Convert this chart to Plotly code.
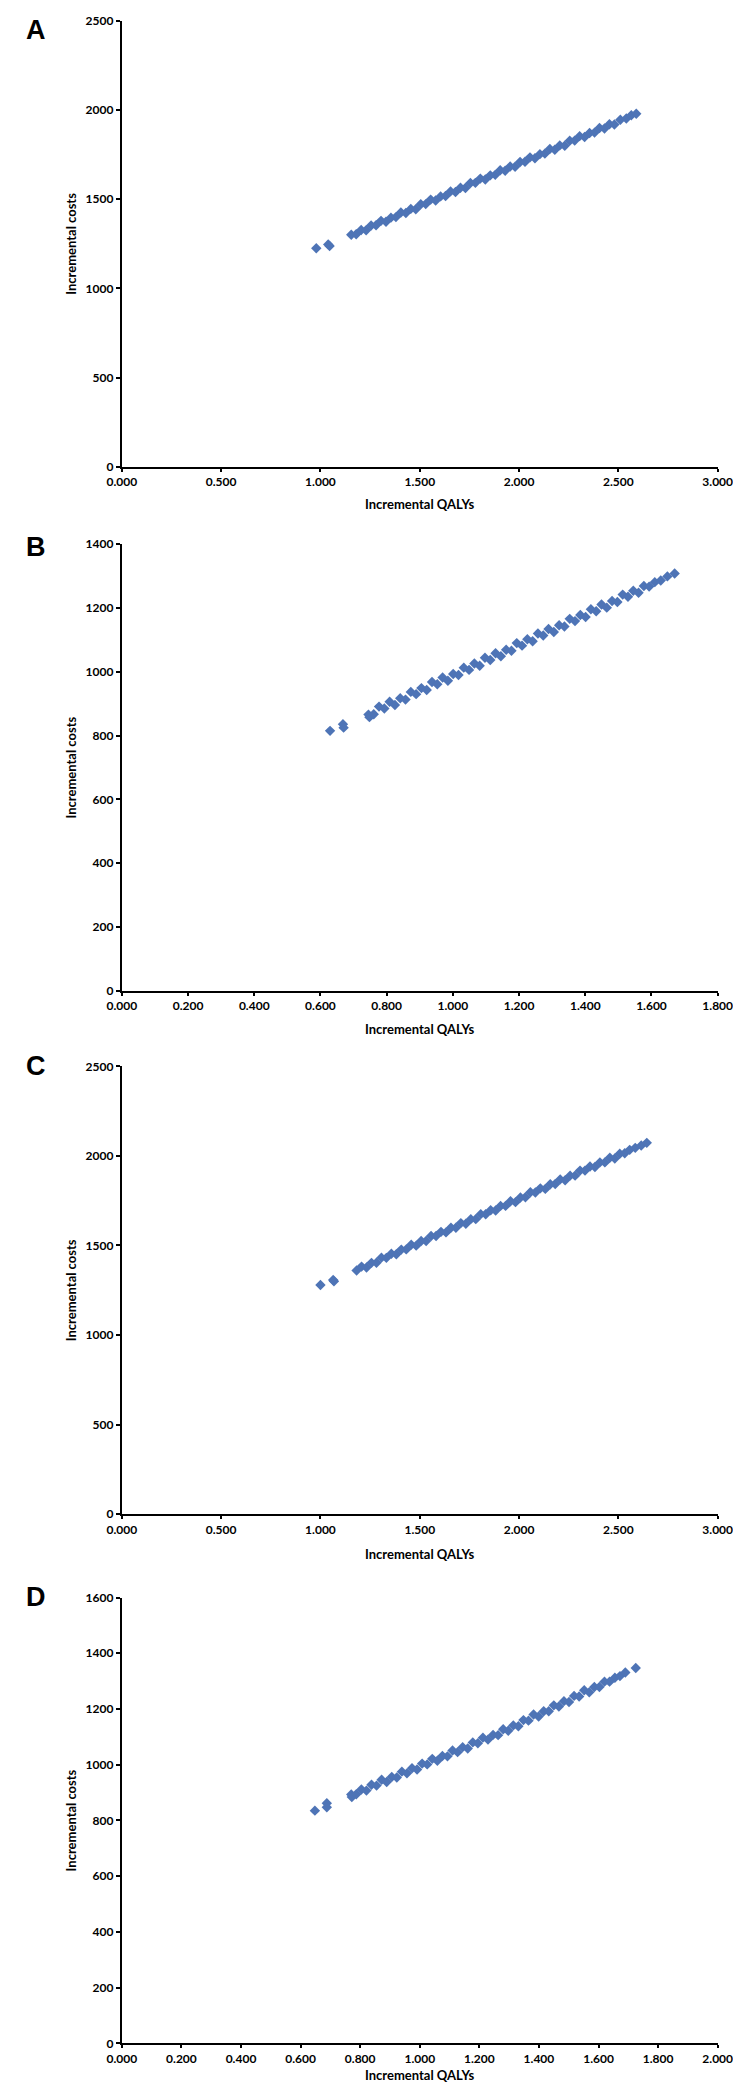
import plotly.graph_objects as go

# Panel A - incremental QALYs vs incremental costs (PSA scatter)
a_qalys = [0.979, 1.039, 1.046,
           1.155, 1.180, 1.205, 1.230, 1.255, 1.280, 1.305, 1.330, 1.355, 1.380,
           1.405, 1.430, 1.455, 1.480, 1.505, 1.530, 1.555, 1.580, 1.605, 1.630,
           1.655, 1.680, 1.705, 1.730, 1.755, 1.780, 1.805, 1.830, 1.855, 1.880,
           1.905, 1.930, 1.955, 1.980, 2.005, 2.030, 2.055, 2.080, 2.105, 2.130,
           2.155, 2.180, 2.205, 2.230, 2.255, 2.280, 2.305, 2.330, 2.355, 2.380,
           2.405, 2.430, 2.455, 2.480, 2.510, 2.540, 2.565, 2.590]
a_costs = [1225, 1247, 1238,
           1301, 1304, 1328, 1326, 1353, 1354, 1379, 1374, 1397, 1400,
           1426, 1423, 1446, 1444, 1472, 1473, 1498, 1493, 1516, 1518,
           1544, 1541, 1565, 1563, 1591, 1592, 1616, 1611, 1634, 1637,
           1663, 1660, 1684, 1682, 1709, 1710, 1735, 1730, 1753, 1756,
           1782, 1778, 1802, 1800, 1828, 1829, 1854, 1849, 1872, 1874,
           1900, 1897, 1921, 1919, 1946, 1953, 1971, 1980]

# Panel B
b_qalys = [0.629, 0.668, 0.670,
           0.745, 0.748, 0.761, 0.777, 0.793, 0.809, 0.825, 0.841, 0.857, 0.873,
           0.889, 0.905, 0.921, 0.937, 0.953, 0.969, 0.985, 1.001, 1.017, 1.033,
           1.049, 1.065, 1.081, 1.097, 1.113, 1.129, 1.145, 1.161, 1.177, 1.193,
           1.209, 1.225, 1.241, 1.257, 1.273, 1.289, 1.305, 1.321, 1.337, 1.353,
           1.369, 1.385, 1.401, 1.417, 1.433, 1.449, 1.465, 1.481, 1.497, 1.513,
           1.529, 1.545, 1.561, 1.577, 1.593, 1.610, 1.628, 1.648, 1.670]
b_costs = [815, 836, 825,
           866, 858, 867, 891, 885, 906, 896, 917, 913, 937,
           930, 949, 943, 968, 961, 982, 972, 993, 990, 1013,
           1006, 1026, 1019, 1044, 1037, 1058, 1049, 1069, 1066, 1090,
           1082, 1102, 1096, 1120, 1114, 1134, 1125, 1146, 1142, 1166,
           1159, 1178, 1172, 1196, 1190, 1211, 1201, 1222, 1219, 1242,
           1235, 1254, 1248, 1269, 1267, 1281, 1286, 1299, 1308]

# Panel C
c_qalys = [1.000, 1.064, 1.068,
           1.182, 1.207, 1.232, 1.257, 1.282, 1.307, 1.332, 1.357, 1.382, 1.407,
           1.432, 1.457, 1.482, 1.507, 1.532, 1.557, 1.582, 1.607, 1.632, 1.657,
           1.682, 1.707, 1.732, 1.757, 1.782, 1.807, 1.832, 1.857, 1.882, 1.907,
           1.932, 1.957, 1.982, 2.007, 2.032, 2.057, 2.082, 2.107, 2.132, 2.157,
           2.182, 2.207, 2.232, 2.257, 2.282, 2.307, 2.332, 2.357, 2.382, 2.407,
           2.432, 2.457, 2.482, 2.507, 2.532, 2.557, 2.585, 2.615, 2.643]
c_costs = [1279, 1307, 1300,
           1360, 1382, 1377, 1403, 1404, 1432, 1431, 1454, 1451, 1477,
           1478, 1504, 1499, 1525, 1525, 1553, 1553, 1576, 1573, 1599,
           1599, 1625, 1621, 1647, 1647, 1675, 1674, 1697, 1695, 1721,
           1721, 1747, 1742, 1768, 1769, 1797, 1796, 1819, 1816, 1842,
           1843, 1869, 1864, 1890, 1890, 1918, 1918, 1941, 1938, 1964,
           1964, 1990, 1986, 2012, 2015, 2034, 2045, 2058, 2073]

# Panel D
d_qalys = [0.648, 0.688, 0.688,
           0.770, 0.772, 0.787, 0.804, 0.821, 0.838, 0.855, 0.872, 0.889, 0.906,
           0.923, 0.940, 0.957, 0.974, 0.991, 1.008, 1.025, 1.042, 1.059, 1.076,
           1.093, 1.110, 1.127, 1.144, 1.161, 1.178, 1.195, 1.212, 1.229, 1.246,
           1.263, 1.280, 1.297, 1.314, 1.331, 1.348, 1.365, 1.382, 1.399, 1.416,
           1.433, 1.450, 1.467, 1.484, 1.501, 1.518, 1.535, 1.552, 1.569, 1.586,
           1.603, 1.620, 1.637, 1.655, 1.672, 1.690, 1.725]
d_costs = [835, 862, 847,
           893, 884, 894, 911, 907, 928, 925, 946, 938, 956,
           954, 975, 969, 987, 983, 1004, 1001, 1021, 1014, 1031,
           1030, 1051, 1045, 1063, 1058, 1080, 1077, 1097, 1090, 1107,
           1106, 1127, 1122, 1141, 1138, 1160, 1158, 1180, 1173, 1192,
           1192, 1213, 1209, 1228, 1225, 1247, 1245, 1267, 1260, 1279,
           1279, 1298, 1298, 1312, 1318, 1331, 1347]

panel_letters = ["A", "B", "C", "D"]
x_ranges = [3.0, 1.8, 3.0, 2.0]
x_steps = [0.5, 0.2, 0.5, 0.2]
y_ranges = [2500, 1400, 2500, 1600]
y_steps = [500, 200, 500, 200]
series = [(a_qalys, a_costs), (b_qalys, b_costs), (c_qalys, c_costs), (d_qalys, d_costs)]

H = 2084
W = 741
# plot area pixel extents (top, bottom) for each panel
tops = [5, 532, 1058, 1593]
bottoms = [454, 982, 1509, 2042]
letter_y = [14, 535, 1058, 1592]
title_gap = [38, 38, 40, 32]

blue = "#4E74B6"
tick_font = dict(family="Lato", size=12, color="black", weight="bold")
title_font = dict(family="Lato", size=13, color="black", weight="bold")

fig = go.Figure()
layout = dict(width=W, height=H, margin=dict(l=0, r=0, t=0, b=0),
              plot_bgcolor="white", paper_bgcolor="white", showlegend=False)
annotations = []

for i, (xs, ys) in enumerate(series):
    n = "" if i == 0 else str(i + 1)
    fig.add_trace(go.Scatter(x=xs, y=ys, mode="markers", xaxis="x" + n, yaxis="y" + n,
                             marker=dict(symbol="diamond", size=8, color=blue,
                                         line=dict(width=0))))
    ydom = [1 - bottoms[i] / H, 1 - tops[i] / H]
    layout["xaxis" + n] = dict(domain=[103 / W, 724 / W], range=[0, x_ranges[i]],
                               anchor="y" + n, dtick=x_steps[i], tick0=0, tickformat=".3f",
                               showline=True, linecolor="black", linewidth=2,
                               ticks="outside", ticklen=3, tickwidth=2, tickcolor="black",
                               showgrid=False, zeroline=False, tickfont=tick_font)
    layout["yaxis" + n] = dict(domain=ydom, range=[0, y_ranges[i]], anchor="x" + n,
                               dtick=y_steps[i], tick0=0,
                               showline=True, linecolor="black", linewidth=2,
                               ticks="outside", ticklen=4, tickwidth=2, tickcolor="black",
                               showgrid=False, zeroline=False, tickfont=tick_font)
    # axis titles
    annotations.append(dict(text="Incremental QALYs", xref="paper", yref="paper",
                            x=413.5 / W, y=1 - (bottoms[i] + title_gap[i]) / H,
                            showarrow=False, xanchor="center", yanchor="middle",
                            font=title_font))
    annotations.append(dict(text="Incremental costs", xref="paper", yref="paper",
                            x=50 / W, y=1 - (tops[i] + bottoms[i]) / 2 / H, showarrow=False,
                            textangle=-90, xanchor="center", yanchor="middle",
                            font=title_font))
    # panel letter
    annotations.append(dict(text=panel_letters[i], xref="paper", yref="paper",
                            x=14 / W, y=1 - letter_y[i] / H, showarrow=False,
                            xanchor="center", yanchor="middle",
                            font=dict(family="Liberation Sans", size=27, color="black",
                                      weight="bold")))

layout["annotations"] = annotations
fig.update_layout(**layout)

fig.write_html("out.html")
